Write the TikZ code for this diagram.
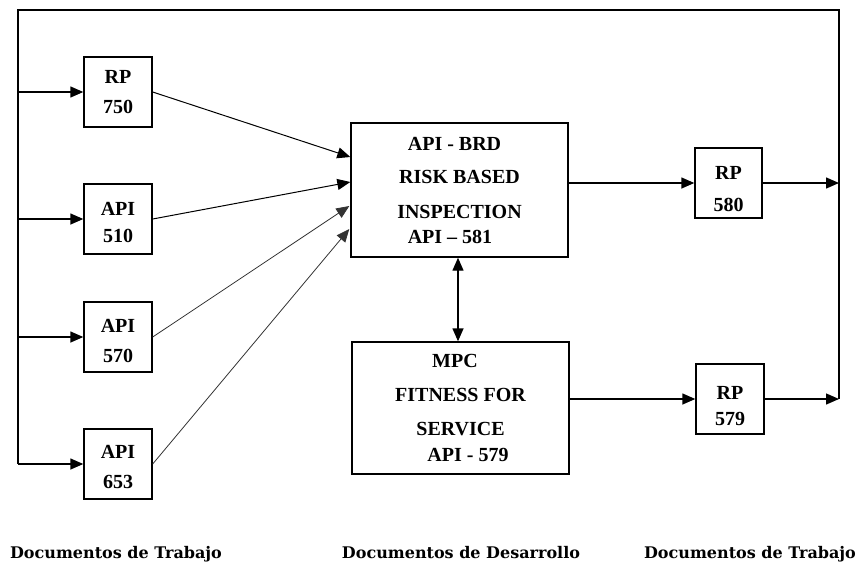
\documentclass[tikz,border=0pt]{standalone}
\usepackage{fontspec}
\setmainfont{Liberation Serif}
\newfontfamily\dejaserif{DejaVu Serif}
\usetikzlibrary{arrows.meta,calc}
\newcommand{\lift}[1]{\rule{0pt}{#1pt}}
\tikzset{
  box/.style={draw, line width=1.4pt, inner sep=0pt, align=center,
    font={\fontsize{20}{30}\selectfont\bfseries}},
  ln/.style={line width=1.4pt},
  tip/.style={-{Triangle[length=13pt,width=11pt]}},
  arr/.style={ln, tip},
  midarr/.style={line width=1pt, tip},
  thinarr/.style={line width=0.8pt, black!80, tip},
  foot/.style={anchor=base, font={\dejaserif\fontsize{16}{18}\selectfont\bfseries}},
}
\begin{document}
\begin{tikzpicture}[x=1pt,y=-1pt]
\useasboundingbox (0,0) rectangle (859,563);

% left documents
\node[box, minimum width=68pt, minimum height=70pt] (rp750) at (118,92) {RP\\750};
\node[box, minimum width=68pt, minimum height=70pt] (api510) at (118,219) {\lift{21}API\\[-3pt]510};
\node[box, minimum width=68pt, minimum height=70pt] (api570) at (118,337) {\lift{20.5}API\\570};
\node[box, minimum width=68pt, minimum height=70pt] (api653) at (118,464) {\lift{20}API\\653};

% central documents
\node[box, minimum width=217pt, minimum height=134pt] (main) at (459.5,190)
  {API - BRD\hspace*{10pt}\\[3pt]RISK BASED\hspace*{8pt}\\[5pt]INSPECTION\hspace*{8pt}\\[-5pt]API -- 581\hspace*{19pt}};
\node[box, minimum width=217pt, minimum height=132pt] (mpc) at (460.5,408)
  {MPC\hspace*{11pt}\\[4pt]FITNESS FOR\\[4pt]SERVICE\\[-4pt]\hspace*{15pt}API - 579};

% right documents
\node[box, minimum width=67pt, minimum height=70pt] (rp580) at (728.5,183) {\lift{26}RP\\[2pt]580};
\node[box, minimum width=68pt, minimum height=70pt] (rp579) at (730,399) {\lift{28}RP\\[-4pt]579};

% frame coordinates
\coordinate (tl) at (18,10);
\coordinate (tr) at (839,10);
\coordinate (lb) at (tl |- api653.west);
\coordinate (rb) at (tr |- rp579.east);
\coordinate (r580) at (tr |- rp580.east);
\coordinate (j750) at (tl |- rp750.west);
\coordinate (j510) at (tl |- api510.west);
\coordinate (j570) at (tl |- api570.west);
\coordinate (m580) at (main.east |- rp580.west);
\coordinate (m579) at (mpc.east |- rp579.west);
\coordinate (in1) at ($(main.west)+(0,-33)$);
\coordinate (in2) at ($(main.west)+(0,-8)$);
\coordinate (in3) at ($(main.west)+(-1,16)$);
\coordinate (in4) at ($(main.west)+(-1,39)$);
\coordinate (dtop) at ($(main.south)+(-1.5,0)$);
\coordinate (dbot) at ($(main.south |- mpc.north)+(-1.5,0)$);

% feedback frame
\draw[ln] (rb) -- (tr) -- (tl) -- (lb);

% into left documents
\draw[arr] (j750) -- (rp750.west);
\draw[arr] (j510) -- (api510.west);
\draw[arr] (j570) -- (api570.west);
\draw[arr] (lb) -- (api653.west);

% into central box
\draw[midarr] (rp750.east) -- (in1);
\draw[midarr] (api510.east) -- (in2);
\draw[thinarr] (api570.east) -- (in3);
\draw[thinarr] (api653.east) -- (in4);

% double arrow
\draw[ln, {Triangle[length=13pt,width=11pt]}-{Triangle[length=13pt,width=11pt]}] (dtop) -- (dbot);

% to right documents
\draw[arr] (m580) -- (rp580.west);
\draw[arr] (m579) -- (rp579.west);
\draw[arr] (rp580.east) -- (r580);
\draw[arr] (rp579.east) -- (rb);

% captions
\node[foot] (d1) at (116,558) {Documentos de Trabajo};
\node[foot] (d2) at (461,558) {Documentos de Desarrollo};
\node[foot] (d3) at (750,558) {Documentos de Trabajo};
\end{tikzpicture}
\end{document}
